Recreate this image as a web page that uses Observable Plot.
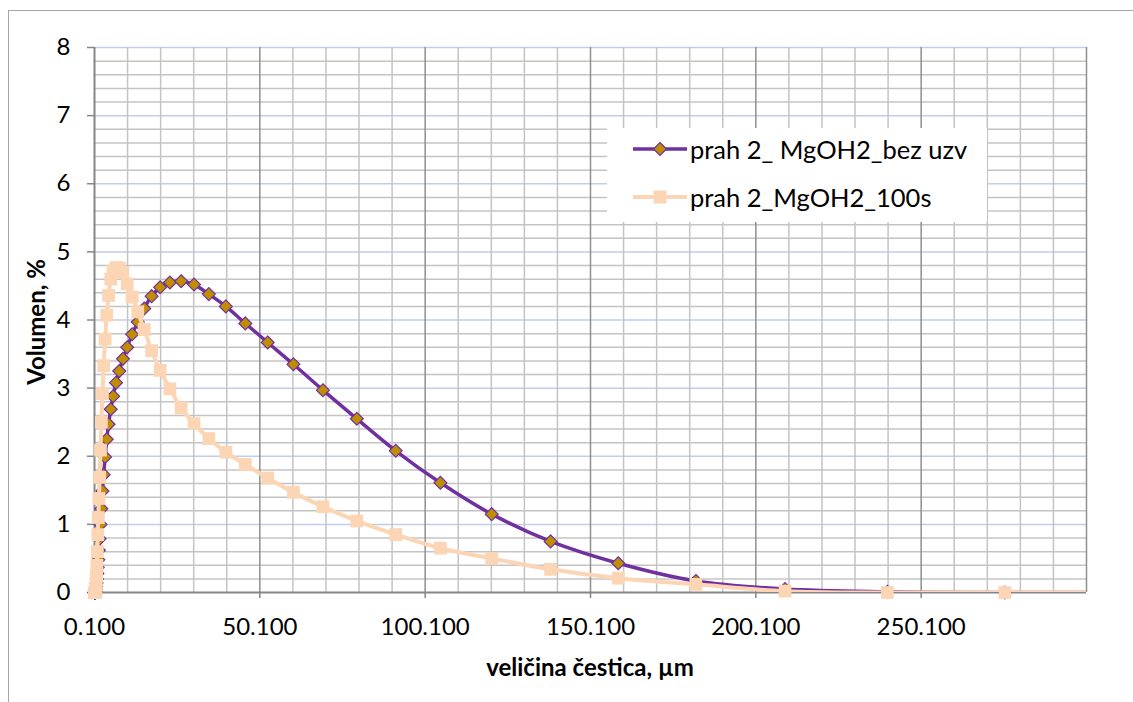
<!DOCTYPE html>
<html><head><meta charset="utf-8">
<script src="https://cdn.jsdelivr.net/npm/d3@7"></script>
<script src="https://cdn.jsdelivr.net/npm/@observablehq/plot@0.6"></script>
<style>
body{margin:0;background:#fff;overflow:hidden;font-family:Lato,sans-serif;}
#wrap{position:relative;width:1133px;height:702px;overflow:hidden;}
#frame{position:absolute;left:8px;top:10px;width:1200px;height:800px;border:1px solid #a6a6a6;}
#chart{position:absolute;left:0;top:0;}
#legend{position:absolute;left:607px;top:128px;width:380px;height:94px;background:#fff;}
.lg{position:absolute;left:26px;height:30px;font-size:25.5px;line-height:30px;color:#000;white-space:pre;}
.lg svg{position:absolute;left:0;top:0;}
.lg span{position:absolute;left:57px;top:0;}
#xt{position:absolute;left:0;width:1180px;top:652px;text-align:center;font-weight:bold;font-size:24px;}
#yt{position:absolute;left:35px;top:322px;transform:translate(-50%,-50%) rotate(-90deg);font-weight:bold;font-size:24px;white-space:nowrap;}
</style></head>
<body><div id="wrap"><div id="frame"></div><div id="chart"></div>
<div id="legend"></div>
<div id="xt">veličina čestica, µm</div>
<div id="yt">Volumen, %</div>
</div>
<script>
const sizes = [0.105,0.120,0.138,0.158,0.182,0.209,0.240,0.275,0.316,0.363,
 0.417,0.479,0.550,0.631,0.724,0.832,0.955,
 1.096,1.259,1.445,1.660,1.905,2.188,2.512,2.884,3.311,3.802,4.365,5.012,5.754,6.607,7.586,8.710,
 10.000,11.482,13.183,15.136,17.378,19.953,22.909,26.303,30.200,34.674,39.811,45.709,52.481,60.256,69.183,79.433,91.201,
 104.713,120.226,138.038,158.489,181.970,208.930,239.883,275.423,316.228];
const seriesA = [0,0,0,0,0,0,0,0,0,0,
 0.01,0.02,0.05,0.09,0.14,0.20,0.28,
 0.37,0.48,0.62,0.79,1.00,1.23,1.49,1.73,1.99,2.25,2.47,2.69,2.88,3.08,3.25,3.43,
 3.60,3.79,3.97,4.17,4.35,4.48,4.55,4.57,4.52,4.38,4.20,3.95,3.67,3.35,2.97,2.55,2.08,
 1.61,1.15,0.75,0.43,0.17,0.05,0.01,0,0];
const seriesB = [0,0,0,0,0,0,0,0,0,0,
 0,0.02,0.06,0.13,0.25,0.40,0.60,
 0.85,1.10,1.38,1.69,2.09,2.50,2.92,3.33,3.72,4.07,4.36,4.60,4.72,4.77,4.76,4.70,
 4.53,4.34,4.12,3.86,3.55,3.26,2.99,2.71,2.48,2.26,2.06,1.88,1.68,1.47,1.26,1.05,0.85,
 0.65,0.50,0.34,0.21,0.12,0.02,0,0,0];
const nameA = "prah 2_ MgOH2_bez uzv";
const nameB = "prah 2_MgOH2_100s";
const xTicks = [0.1,50.1,100.1,150.1,200.1,250.1];
const yTicks = [0,1,2,3,4,5,6,7,8];

const purple = "#7030A0", gold = "#BF8F00", peach = "#FCD5B5";
const xMax = 300.1;
const xMinor = d3.range(0, 31).map(i => 0.1 + 10*i).filter(v => Math.round(v-0.1)%50!==0);
const xMajorGrid = [50.1,100.1,150.1,200.1,250.1,300.1];
const yMinor = d3.range(0, 41).map(i => +(i*0.2).toFixed(1)).filter(v => Math.abs(v - Math.round(v)) > 1e-6);
const yMajorGrid = [1,2,3,4,5,6,7,8];

const dataA = sizes.map((x,i) => ({x, y: seriesA[i], s: nameA}));
const dataB = sizes.map((x,i) => ({x, y: seriesB[i], s: nameB}));

const chart = Plot.plot({
  width: 1133, height: 702,
  marginLeft: 94, marginRight: 47, marginTop: 47, marginBottom: 110,
  style: {fontFamily: "Lato, sans-serif", fontSize: "24px", background: "transparent", color: "#000", overflow: "visible"},
  x: {domain: [0.1, xMax]},
  y: {domain: [0, 8]},
  marks: [
    Plot.gridY(yMinor, {stroke: "#c4c4c4", strokeOpacity: 1, strokeWidth: 1.5}),
    Plot.gridY(yMajorGrid, {stroke: "#bfcdee", strokeOpacity: 1, strokeWidth: 1.5}),
    Plot.gridX(xMinor, {stroke: "#c4c4c4", strokeOpacity: 1, strokeWidth: 1.5}),
    Plot.gridX(xMajorGrid, {stroke: "#8f8f8f", strokeOpacity: 1, strokeWidth: 1.5}),
    Plot.ruleX([0.1], {stroke: "#868686", strokeWidth: 2}),
    Plot.ruleY([0], {stroke: "#868686", strokeWidth: 2}),
    Plot.axisX(xTicks, {tickSize: 6, tickPadding: 19, tickFormat: d3.format(".3f"), label: null, stroke: "#868686", strokeWidth: 1.5}),
    Plot.axisY(yTicks, {tickSize: 7, tickPadding: 17, tickFormat: d3.format("d"), label: null, stroke: "#868686", strokeWidth: 1.5}),
    Plot.line(dataA, {x: "x", y: "y", curve: "catmull-rom", stroke: purple, strokeWidth: 3.5, clip: true}),
    Plot.dot(dataA.filter(d => d.x <= xMax), {x: "x", y: "y", symbol: "diamond2", r: 5.8, fill: gold, stroke: purple, strokeWidth: 1.2}),
    Plot.line(dataB, {x: "x", y: "y", curve: "catmull-rom", stroke: peach, strokeWidth: 4, clip: true}),
    Plot.dot(dataB.filter(d => d.x <= xMax), {x: "x", y: "y", symbol: "square", r: 7.2, fill: peach, stroke: "none"})
  ]
});
document.getElementById("chart").append(chart);

const lg = document.getElementById("legend");
[[nameA, "A", 6], [nameB, "B", 54]].forEach(([name, k, top]) => {
  const row = document.createElement("div");
  row.className = "lg";
  row.style.top = top + "px";
  const svgNS = "http://www.w3.org/2000/svg";
  const svg = document.createElementNS(svgNS, "svg");
  svg.setAttribute("width", 56); svg.setAttribute("height", 30);
  const ln = document.createElementNS(svgNS, "line");
  ln.setAttribute("x1", 0); ln.setAttribute("x2", 54); ln.setAttribute("y1", 15); ln.setAttribute("y2", 15);
  ln.setAttribute("stroke", k === "A" ? purple : peach); ln.setAttribute("stroke-width", k === "A" ? 3.5 : 4);
  svg.append(ln);
  if (k === "A") {
    const p = document.createElementNS(svgNS, "path");
    p.setAttribute("d", "M27,8.5L33.5,15L27,21.5L20.5,15Z");
    p.setAttribute("fill", gold); p.setAttribute("stroke", purple); p.setAttribute("stroke-width", 1.2);
    svg.append(p);
  } else {
    const r = document.createElementNS(svgNS, "rect");
    r.setAttribute("x", 20.5); r.setAttribute("y", 8.5); r.setAttribute("width", 13); r.setAttribute("height", 13);
    r.setAttribute("fill", peach);
    svg.append(r);
  }
  row.append(svg);
  const sp = document.createElement("span");
  sp.textContent = name;
  row.append(sp);
  lg.append(row);
});
</script>
</body></html>
